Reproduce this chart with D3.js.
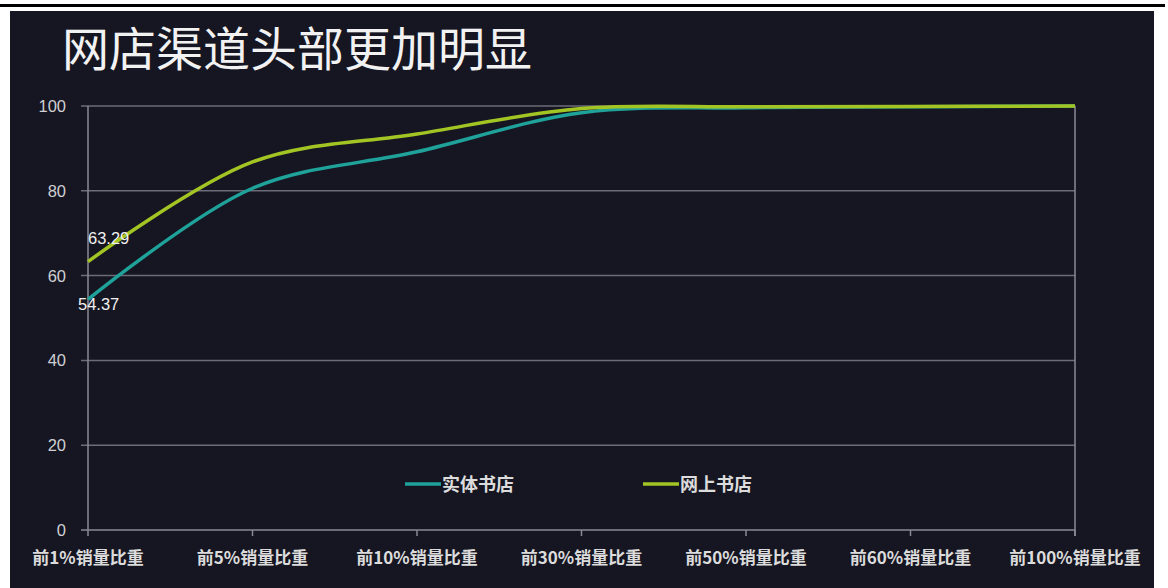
<!DOCTYPE html>
<html>
<head>
<meta charset="utf-8">
<script src="https://cdn.jsdelivr.net/npm/d3@7"></script>
<style>
  body { margin: 0; background: #fff; }
  svg { display: block; }
</style>
</head>
<body>
<svg id="chart" width="1168" height="588"></svg>
<script>
// categories along the x axis
const categories = ["前1%销量比重", "前5%销量比重", "前10%销量比重", "前30%销量比重", "前50%销量比重", "前60%销量比重", "前100%销量比重"];
// cumulative share values
const physicalStore = [54.37, 80.6, 89.2, 98.4, 99.6, 99.8, 100];
const onlineStore = [63.29, 86.8, 93.4, 99.4, 99.8, 99.9, 100];
const yTicks = [0, 20, 40, 60, 80, 100];

const seriesList = [
  { name: "实体书店", values: physicalStore, color: "#1fa29a", labelDy: 11, labelDx: -10 },
  { name: "网上书店", values: onlineStore, color: "#a3c524", labelDy: -18, labelDx: 0 }
];

const svg = d3.select("#chart");

// top rule and dark panel
svg.append("rect").attr("x", 0).attr("y", 4).attr("width", 1165).attr("height", 3).attr("fill", "#000");
svg.append("rect").attr("x", 10).attr("y", 11).attr("width", 1144).attr("height", 577).attr("fill", "#161622");

svg.append("text")
  .attr("x", 62).attr("y", 66)
  .attr("fill", "#f2f2f2")
  .attr("font-family", "Noto Sans CJK SC")
  .attr("font-size", 47)
  .text("网店渠道头部更加明显");

const margin = { left: 88, right: 1075, top: 106, bottom: 530 };

const x = d3.scalePoint().domain(categories).range([margin.left, margin.right]);
const y = d3.scaleLinear().domain([0, 100]).range([margin.bottom, margin.top]);

// horizontal gridlines
svg.append("g")
  .selectAll("line")
  .data(yTicks)
  .enter().append("line")
    .attr("x1", margin.left - 7).attr("x2", margin.right)
    .attr("y1", d => y(d)).attr("y2", d => y(d))
    .attr("stroke", d => d === 0 ? "#8a8a96" : "#6c6c78")
    .attr("stroke-width", 1.5);

// left and right vertical borders
svg.append("g")
  .selectAll("line")
  .data([margin.left, margin.right])
  .enter().append("line")
    .attr("x1", d => d).attr("x2", d => d)
    .attr("y1", margin.top).attr("y2", margin.bottom + 6)
    .attr("stroke", "#8a8a96")
    .attr("stroke-width", 1.5);

// x tick marks
svg.append("g")
  .selectAll("line")
  .data(categories.slice(1))
  .enter().append("line")
    .attr("x1", d => x(d)).attr("x2", d => x(d))
    .attr("y1", margin.bottom).attr("y2", margin.bottom + 6)
    .attr("stroke", "#8a8a96")
    .attr("stroke-width", 1.5);

// y tick labels
svg.append("g")
  .selectAll("text")
  .data(yTicks)
  .enter().append("text")
    .attr("x", 66)
    .attr("y", d => y(d) + 6)
    .attr("text-anchor", "end")
    .attr("fill", "#d0d0d4")
    .attr("font-family", "Liberation Sans, Arial, sans-serif")
    .attr("font-size", 16.5)
    .text(d => d);

// x tick labels
svg.append("g")
  .selectAll("text")
  .data(categories)
  .enter().append("text")
    .attr("x", d => x(d))
    .attr("y", 564)
    .attr("text-anchor", "middle")
    .attr("fill", "#dcdcdc")
    .attr("font-family", "Noto Sans CJK SC")
    .attr("font-weight", "bold")
    .attr("font-size", 17)
    .text(d => d);

// the two smoothed lines
const line = d3.line()
  .x((d, i) => x(categories[i]))
  .y(d => y(d))
  .curve(d3.curveCatmullRom.alpha(0.5));

svg.append("g")
  .selectAll("path")
  .data(seriesList)
  .enter().append("path")
    .attr("d", s => line(s.values))
    .attr("fill", "none")
    .attr("stroke", s => s.color)
    .attr("stroke-width", 3.5);

// data labels on the first point
svg.append("g")
  .selectAll("text")
  .data(seriesList)
  .enter().append("text")
    .attr("x", s => x(categories[0]) + s.labelDx)
    .attr("y", s => y(s.values[0]) + s.labelDy)
    .attr("fill", "#f0f0f0")
    .attr("font-family", "Liberation Sans, Arial, sans-serif")
    .attr("font-size", 16.5)
    .text(s => s.values[0].toFixed(2));

// legend
const legendX = [405, 643];
const legend = svg.append("g")
  .selectAll("g")
  .data(seriesList)
  .enter().append("g")
    .attr("transform", (s, i) => `translate(${legendX[i]},484)`);
legend.append("line")
  .attr("x1", 0).attr("x2", 36)
  .attr("stroke", s => s.color)
  .attr("stroke-width", 3.5);
legend.append("text")
  .attr("x", 37).attr("y", 6.5)
  .attr("fill", "#dcdcdc")
  .attr("font-family", "Noto Sans CJK SC")
  .attr("font-weight", "bold")
  .attr("font-size", 18)
  .text(s => s.name);
</script>
</body>
</html>
